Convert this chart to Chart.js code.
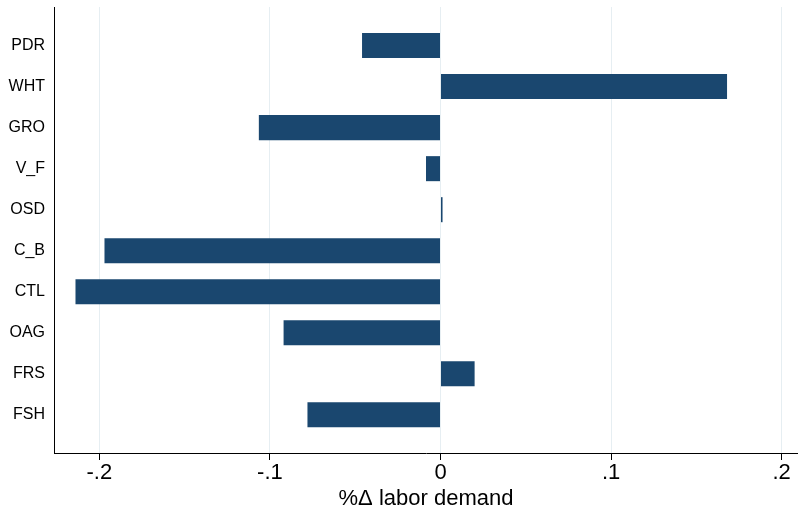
<!DOCTYPE html>
<html>
<head>
<meta charset="utf-8">
<script src="https://cdn.jsdelivr.net/npm/chart.js@4/dist/chart.umd.min.js"></script>
<style>
  html, body { margin: 0; padding: 0; background: #ffffff; }
  #wrap { width: 798px; height: 508px; }
</style>
</head>
<body>
<div id="wrap"><canvas id="c" width="798" height="508"></canvas></div>
<script>
// Sectors, top to bottom
const sectors = ['PDR', 'WHT', 'GRO', 'V_F', 'OSD', 'C_B', 'CTL', 'OAG', 'FRS', 'FSH'];
// Percentage change in labor demand by sector
const laborChange = [-0.046, 0.168, -0.1065, -0.0085, 0.0012, -0.197, -0.214, -0.092, 0.020, -0.078];
// Horizontal axis ticks and their printed labels
const xTickValues = [-0.2, -0.1, 0, 0.1, 0.2];
const xTickLabels = ['-.2', '-.1', '0', '.1', '.2'];
const xTitle = '%\u0394 labor demand';

const FONT = "'Liberation Sans', Arial, Helvetica, sans-serif";
const BAR = '#1a476f';

const points = laborChange.map((v, i) => ({ x: v, y: i }));

new Chart(document.getElementById('c'), {
  type: 'bar',
  data: {
    datasets: [{
      data: points,
      backgroundColor: BAR,
      borderWidth: 0,
      barPercentage: 0.61,
      categoryPercentage: 1.0
    }]
  },
  options: {
    indexAxis: 'y',
    responsive: false,
    animation: false,
    events: [],
    layout: { padding: { top: 7, right: 0, left: 0, bottom: 0 } },
    plugins: {
      legend: { display: false },
      tooltip: { enabled: false }
    },
    scales: {
      x: {
        type: 'linear',
        position: 'bottom',
        offset: false,
        min: -0.2266,
        max: 0.2096,
        afterBuildTicks: (s) => { s.ticks = xTickValues.map(v => ({ value: v })); },
        afterFit: (s) => { s.height = 55; s.paddingLeft = 0; s.paddingRight = 0; },
        grid: {
          display: true,
          drawOnChartArea: true,
          drawTicks: true,
          tickLength: 7,
          color: '#e6eef2',
          lineWidth: 1,
          tickColor: '#000000',
          tickWidth: 1
        },
        border: { display: true, color: '#000000', width: 1 },
        ticks: {
          padding: 0,
          color: '#000000',
          font: { family: FONT, size: 22 },
          maxRotation: 0,
          autoSkip: false,
          callback: (v) => {
            const k = xTickValues.findIndex(t => Math.abs(t - v) < 1e-9);
            return k >= 0 ? xTickLabels[k] : '';
          }
        },
        title: {
          display: true,
          text: xTitle,
          color: '#000000',
          font: { family: FONT, size: 22, lineHeight: 1 },
          padding: { top: 0, bottom: -2 }
        }
      },
      y: {
        type: 'linear',
        position: 'left',
        offset: false,
        reverse: true,
        min: -0.94,
        max: 9.93,
        afterBuildTicks: (s) => { s.ticks = sectors.map((_, i) => ({ value: i })); },
        afterFit: (s) => { s.width = 54; s.paddingTop = 0; s.paddingBottom = 0; },
        grid: { display: false, drawTicks: false },
        border: { display: true, color: '#000000', width: 1 },
        ticks: {
          padding: 9,
          color: '#000000',
          autoSkip: false,
          font: { family: FONT, size: 16 },
          callback: (v) => sectors[Math.round(v)] ?? ''
        }
      }
    }
  }
});
</script>
</body>
</html>
